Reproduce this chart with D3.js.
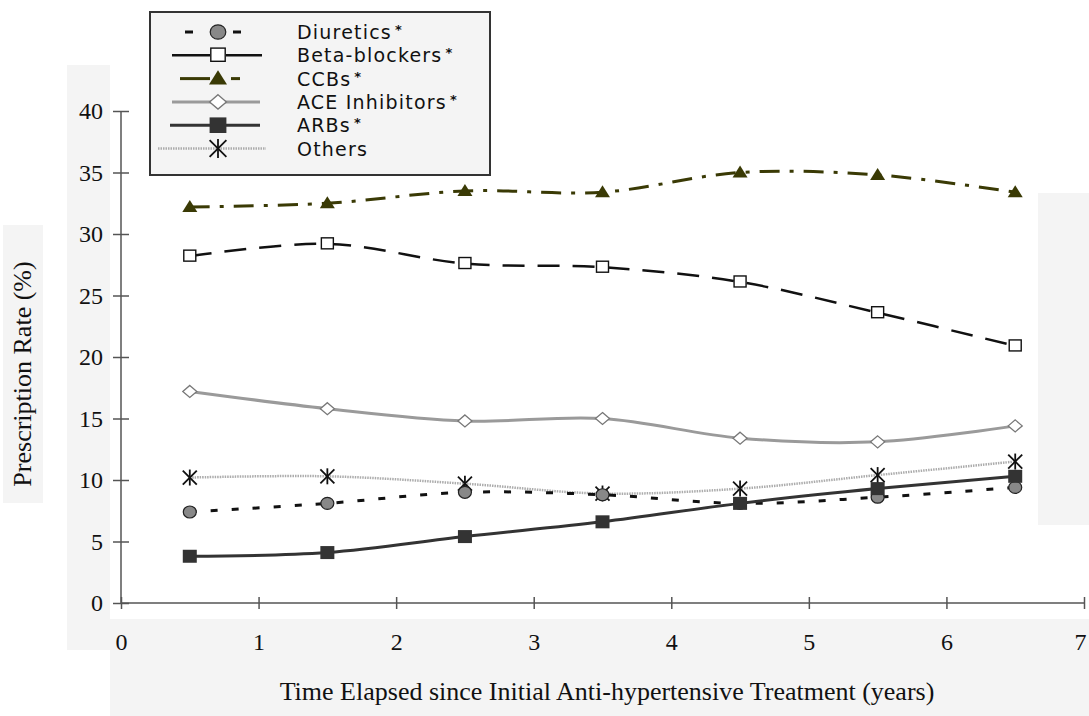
<!DOCTYPE html>
<html>
<head>
<meta charset="utf-8">
<script src="https://cdn.jsdelivr.net/npm/d3@7"></script>
<style>
  body { margin: 0; background: #fff; }
  svg { display: block; }
</style>
</head>
<body>
<svg id="chart" width="1089" height="716"></svg>
<script>
var years = [0.5, 1.5, 2.5, 3.5, 4.5, 5.5, 6.5];
var diuretics = [7.4, 8.1, 9.0, 8.8, 8.1, 8.6, 9.4];
var betaBlockers = [28.2, 29.2, 27.6, 27.3, 26.1, 23.6, 20.9];
var ccbs = [32.2, 32.5, 33.5, 33.4, 35.0, 34.8, 33.4];
var aceInhibitors = [17.2, 15.8, 14.8, 15.0, 13.4, 13.1, 14.4];
var arbs = [3.8, 4.1, 5.4, 6.6, 8.1, 9.3, 10.3];
var others = [10.2, 10.3, 9.7, 8.9, 9.3, 10.4, 11.5];
var xTicks = [0, 1, 2, 3, 4, 5, 6, 7];
var yTicks = [0, 5, 10, 15, 20, 25, 30, 35, 40];

var series = [
  {name: 'Diuretics', star: true, values: diuretics, stroke: '#111', width: 3, dash: '7,14', marker: 'circle'},
  {name: 'Beta-blockers', star: true, values: betaBlockers, stroke: '#111', width: 2.5, dash: '22,13', marker: 'openSquare'},
  {name: 'CCBs', star: true, values: ccbs, stroke: '#3a3a05', width: 3, dash: '20,10,4,10', marker: 'triangle'},
  {name: 'ACE Inhibitors', star: true, values: aceInhibitors, stroke: '#9a9a9a', width: 3, dash: null, marker: 'diamond'},
  {name: 'ARBs', star: true, values: arbs, stroke: '#333', width: 3, dash: null, marker: 'filledSquare'},
  {name: 'Others', star: false, values: others, stroke: '#acacac', width: 2.5, dash: '1.5,1', marker: 'asterisk'}
];

// legend sample strokes: [x1, x2] pieces either side of the marker
var legendPieces = {
  'Diuretics': [[185, 193], [233, 241]],
  'Beta-blockers': [[172, 210], [226, 262]],
  'CCBs': [[180, 210], [231, 240]],
  'ACE Inhibitors': [[172, 260]],
  'ARBs': [[170, 260]],
  'Others': [[158, 266]]
};

var svg = d3.select('#chart');
var serif = 'Liberation Serif, Times New Roman, serif';
var sans = 'DejaVu Sans, Verdana, sans-serif';

// pale panels left over from the scanned figure
var panels = [
  [67, 65, 43, 585], [3, 225, 40, 278], [110, 619, 979, 97], [1038, 193, 51, 332]
];
panels.forEach(function(p) {
  svg.append('rect').attr('x', p[0]).attr('y', p[1]).attr('width', p[2]).attr('height', p[3])
    .attr('fill', '#f4f4f4');
});

var x = d3.scaleLinear().domain([0, 7]).range([121, 1084]);
var y = d3.scaleLinear().domain([0, 40]).range([603, 111]);

// axes
var yAxis = svg.append('g').attr('transform', 'translate(121,0)')
  .call(d3.axisLeft(y).tickValues(yTicks).tickFormat(d3.format('d')).tickSize(8).tickPadding(10));
var xAxis = svg.append('g').attr('transform', 'translate(0,603)')
  .call(d3.axisBottom(x).tickValues(xTicks).tickFormat(d3.format('d')).tickSize(6).tickPadding(24));

[yAxis, xAxis].forEach(function(ax) {
  ax.select('.domain').attr('stroke', '#555').attr('stroke-width', 1.5);
  ax.selectAll('.tick line').attr('stroke', '#555').attr('stroke-width', 1.5);
  ax.selectAll('.tick text').attr('fill', '#111').style('font-family', serif).style('font-size', '24px');
});
yAxis.selectAll('.tick line').attr('x2', -8).attr('x1', 8);
xAxis.selectAll('.tick line').attr('y1', -6).attr('y2', 6);
xAxis.selectAll('.tick text').filter(function(d) { return d === 7; }).attr('dx', -4);
yAxis.select('.domain').attr('d', 'M0,' + y(40) + 'V' + y(0));
xAxis.select('.domain').attr('d', 'M' + x(0) + ',0H' + x(7));

svg.append('text')
  .attr('transform', 'translate(31,374) rotate(-90)')
  .attr('text-anchor', 'middle')
  .style('font-family', serif).style('font-size', '26px').attr('fill', '#111')
  .text('Prescription Rate (%)');

svg.append('text')
  .attr('x', 607).attr('y', 700)
  .attr('text-anchor', 'middle')
  .style('font-family', serif).style('font-size', '26px').attr('fill', '#111')
  .text('Time Elapsed since Initial Anti-hypertensive Treatment (years)');

var line = d3.line()
  .x(function(d, i) { return x(years[i]); })
  .y(function(d) { return y(d); })
  .curve(d3.curveCatmullRom);

function drawMarker(g, kind, cx, cy, k) {
  k = k || 1;
  if (kind === 'circle') {
    g.append('ellipse').attr('cx', cx).attr('cy', cy).attr('rx', 6.5 * k).attr('ry', 6 * k)
      .attr('fill', '#888').attr('stroke', '#222').attr('stroke-width', 1.2);
  } else if (kind === 'openSquare') {
    g.append('rect').attr('x', cx - 6 * k).attr('y', cy - 6 * k).attr('width', 12 * k).attr('height', 11 * k)
      .attr('fill', '#fff').attr('stroke', '#111').attr('stroke-width', 1.4);
  } else if (kind === 'triangle') {
    g.append('path').attr('d', 'M' + cx + ',' + (cy - 7 * k) + 'L' + (cx + 7.5 * k) + ',' + (cy + 5 * k) + 'L' + (cx - 7.5 * k) + ',' + (cy + 5 * k) + 'Z')
      .attr('fill', '#3a3a05');
  } else if (kind === 'diamond') {
    g.append('path').attr('d', 'M' + cx + ',' + (cy - 6 * k) + 'L' + (cx + 7 * k) + ',' + cy + 'L' + cx + ',' + (cy + 6 * k) + 'L' + (cx - 7 * k) + ',' + cy + 'Z')
      .attr('fill', '#fff').attr('stroke', '#777').attr('stroke-width', 1.3);
  } else if (kind === 'filledSquare') {
    g.append('rect').attr('x', cx - 7 * k).attr('y', cy - 6.5 * k).attr('width', 14 * k).attr('height', 13 * k)
      .attr('fill', '#333');
  } else if (kind === 'asterisk') {
    var a = g.append('g').attr('stroke', '#111').attr('stroke-width', 1.8);
    a.append('line').attr('x1', cx).attr('y1', cy - 8 * k).attr('x2', cx).attr('y2', cy + 8 * k);
    a.append('line').attr('x1', cx - 7 * k).attr('y1', cy - 7 * k).attr('x2', cx + 7 * k).attr('y2', cy + 7 * k);
    a.append('line').attr('x1', cx + 7 * k).attr('y1', cy - 7 * k).attr('x2', cx - 7 * k).attr('y2', cy + 7 * k);
  }
}

// draw lines, then markers
var drawOrder = [3, 5, 0, 4, 1, 2];
drawOrder.forEach(function(k) {
  var s = series[k];
  svg.append('path')
    .attr('d', line(s.values))
    .attr('fill', 'none')
    .attr('stroke', s.stroke)
    .attr('stroke-width', s.width)
    .attr('stroke-dasharray', s.dash);
});
drawOrder.forEach(function(k) {
  var s = series[k];
  var g = svg.append('g');
  s.values.forEach(function(v, i) {
    drawMarker(g, s.marker, x(years[i]), y(v));
  });
});

// legend
var legend = svg.append('g');
legend.append('rect').attr('x', 150).attr('y', 12).attr('width', 340).attr('height', 163)
  .attr('fill', '#f4f4f4').attr('stroke', '#333').attr('stroke-width', 2);
series.forEach(function(s, i) {
  var ly = 32 + i * 23.3;
  legendPieces[s.name].forEach(function(p) {
    legend.append('line').attr('x1', p[0]).attr('x2', p[1]).attr('y1', ly).attr('y2', ly)
      .attr('stroke', s.stroke).attr('stroke-width', s.width)
      .attr('stroke-dasharray', s.name === 'Others' ? s.dash : null);
  });
  drawMarker(legend, s.marker, 218, ly, 1.2);
  var t = legend.append('text').attr('x', 297).attr('y', ly + 7)
    .style('font-family', sans).style('font-size', '19px').style('letter-spacing', '1.2px').attr('fill', '#111')
    .text(s.name);
  if (s.star) {
    t.append('tspan').attr('dx', 3).attr('dy', -5).style('font-size', '13px').style('font-weight', 'bold').text('*');
  }
});
</script>
</body>
</html>
